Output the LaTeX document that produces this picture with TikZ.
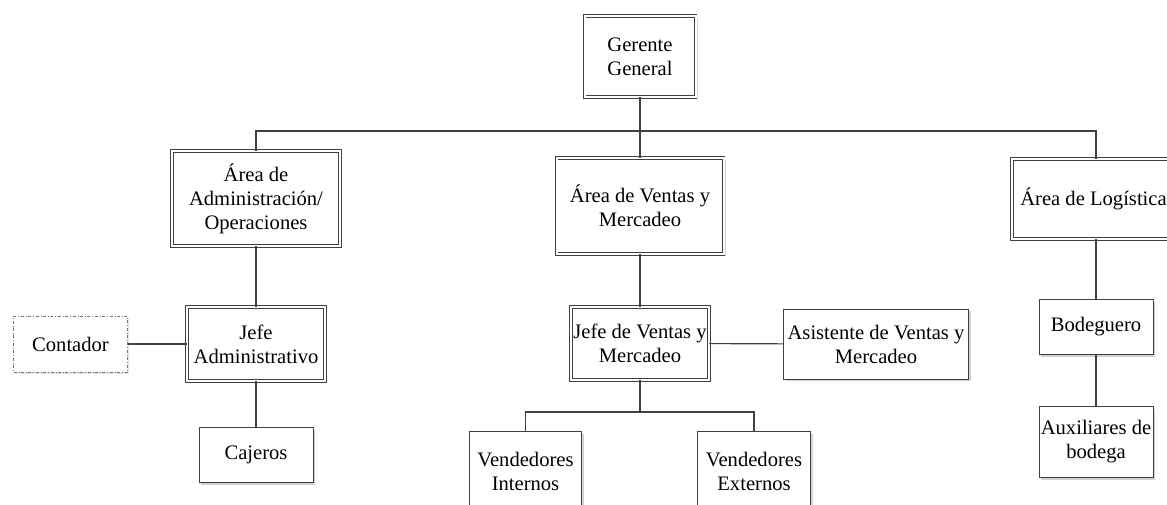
\documentclass[tikz,border=0pt]{standalone}
\usepackage{fontspec}
\setmainfont{Liberation Serif}
\newfontfamily\orgfont{Liberation Serif}
\usepackage{tikz}
\usetikzlibrary{shadows,positioning}

\begin{document}
\begin{tikzpicture}[x=1pt,y=-1pt,
    every node/.style={font=\orgfont\fontsize{20.6}{24}\selectfont,align=center,inner sep=1pt},
    boss node/.style={draw=black!75,double,double distance=2pt,line width=0.9pt,fill=white,
      drop shadow={shadow xshift=2pt,shadow yshift=-2pt,fill=black!30,opacity=0.6}},
    staff node/.style={draw=black!75,line width=0.9pt,fill=white,
      drop shadow={shadow xshift=2pt,shadow yshift=-2pt,fill=black!30,opacity=0.6}},
    extern node/.style={draw=black!55,dash dot,line width=0.7pt,fill=white,
      drop shadow={shadow xshift=1.5pt,shadow yshift=-1.5pt,fill=black!20,opacity=0.5}},
    link/.style={draw=black!75,line width=1.1pt}]

  \useasboundingbox (0,0) rectangle (1167,504);

  \node[boss node,minimum width=111pt,minimum height=81pt] (gerente) at (640,56.5) {Gerente\\General};
  \node[boss node,minimum width=168pt,minimum height=95pt] (admin) at (256,198.5) {Área de\\Administración/\\Operaciones};
  \node[boss node,minimum width=167pt,minimum height=96pt] (ventas) at (640,206) {Área de Ventas y\\Mercadeo};
  \node[boss node,minimum width=163pt,minimum height=80pt] (logistica) at (1093.5,199) {Área de Logística};
  \node[boss node,minimum width=138pt,minimum height=74pt] (jefeadm) at (256,344) {Jefe\\Administrativo};
  \node[boss node,minimum width=138pt,minimum height=73pt] (jefeven) at (640,343.5) {Jefe de Ventas y\\Mercadeo};
  \node[extern node,minimum width=114pt,minimum height=56pt] (contador) at (70.5,344) {Contador};
  \node[staff node,minimum width=114pt,minimum height=55pt] (cajeros) at (256,455) {Cajeros};
  \node[staff node,minimum width=185pt,minimum height=70pt] (asistente) at (876,344) {Asistente de Ventas y\\Mercadeo};
  \node[staff node,minimum width=112pt,minimum height=79pt] (internos) at (525.5,471) {Vendedores\\Internos};
  \node[staff node,minimum width=113pt,minimum height=79pt] (externos) at (754,471) {Vendedores\\Externos};
  \node[staff node,minimum width=114pt,minimum height=55pt] (bodeguero) at (1096,327) {Bodeguero};
  \node[staff node,minimum width=114pt,minimum height=71pt] (auxiliares) at (1096,442) {Auxiliares de\\bodega};

  \coordinate (topbar) at (640,131);
  \coordinate (venbar) at (640,412);

  \path[link] (gerente.south) -- (topbar);
  \path[link] (admin.north) |- (topbar) -| (bodeguero.north |- logistica.north);
  \path[link] (topbar) -- (ventas.north);
  \path[link] (admin) -- (jefeadm);
  \path[link] (jefeadm) -- (cajeros);
  \path[link] (contador) -- (jefeadm);
  \path[link] (ventas) -- (jefeven);
  \path[link] (jefeven) -- (asistente);
  \path[link] (jefeven.south) -- (venbar);
  \path[link] (internos.north) |- (venbar) -| (externos.north);
  \path[link] (logistica.south -| bodeguero.north) -- (bodeguero.north);
  \path[link] (bodeguero) -- (auxiliares);
\end{tikzpicture}
\end{document}
